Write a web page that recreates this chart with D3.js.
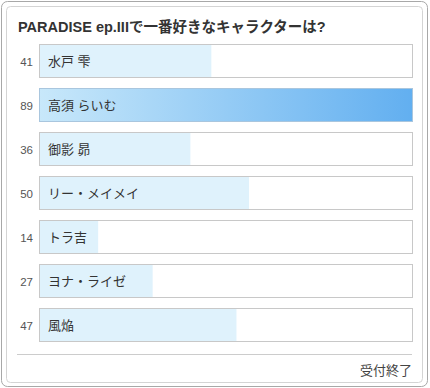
<!DOCTYPE html>
<html>
<head>
<meta charset="utf-8">
<script src="https://cdn.jsdelivr.net/npm/d3@7"></script>
<style>
  body { margin: 0; background: #fff; }
  svg { display: block; font-family: "Liberation Sans", Arial, "Noto Sans CJK JP", sans-serif; }
</style>
</head>
<body>
<div id="chart"></div>
<script>
var title = "PARADISE ep.IIIで一番好きなキャラクターは?";
var names = ["水戸 雫", "高須 らいむ", "御影 昴", "リー・メイメイ", "トラ吉", "ヨナ・ライゼ", "風焔"];
var votes = [41, 89, 36, 50, 14, 27, 47];
var footer = "受付終了";

var W = 430, H = 388;
var svg = d3.select("#chart").append("svg")
  .attr("width", W)
  .attr("height", H);

var defs = svg.append("defs");
var grad = defs.append("linearGradient").attr("id", "topgrad")
  .attr("x1", "0%").attr("x2", "100%").attr("y1", "0%").attr("y2", "0%");
grad.append("stop").attr("offset", "0%").attr("stop-color", "#c8e8fa");
grad.append("stop").attr("offset", "100%").attr("stop-color", "#62aff0");

// frames
svg.append("rect")
  .attr("x", 1.5).attr("y", 1.5).attr("width", 426).attr("height", 385)
  .attr("rx", 6).attr("fill", "#fff").attr("stroke", "#a8a8a8");
svg.append("rect")
  .attr("x", 6.5).attr("y", 6.5).attr("width", 416).attr("height", 376)
  .attr("rx", 4).attr("fill", "#fff").attr("stroke", "#d4d4d4");

svg.append("text")
  .attr("x", 18).attr("y", 32)
  .attr("font-size", 14.5)
  .attr("font-weight", "bold")
  .attr("fill", "#333")
  .text(title);

var x = d3.scaleLinear().domain([0, d3.max(votes)]).range([0, 373]);
var y = d3.scaleBand().domain(names).range([44, 341]).paddingInner(0.25).paddingOuter(0);

var left = 39;
var maxV = d3.max(votes);
var bh = y.bandwidth();

var rows = svg.selectAll("g.row")
  .data(names)
  .join("g")
  .attr("class", "row")
  .attr("transform", function (d) { return "translate(0," + y(d) + ")"; });

rows.append("rect")
  .attr("x", left + 0.5).attr("y", 0.5)
  .attr("width", x(maxV)).attr("height", bh)
  .attr("fill", "#fff");

rows.append("rect")
  .attr("x", left + 0.5).attr("y", 0.5)
  .attr("width", function (d, i) { return x(votes[i]); })
  .attr("height", bh)
  .attr("fill", function (d, i) { return votes[i] === maxV ? "url(#topgrad)" : "#dff2fc"; });

rows.append("rect")
  .attr("x", left + 0.5).attr("y", 0.5)
  .attr("width", x(maxV)).attr("height", bh)
  .attr("fill", "none")
  .attr("stroke", function (d, i) { return votes[i] === maxV ? "#a9c6de" : "#c8c8c8"; });

rows.append("text")
  .attr("x", 33).attr("y", bh / 2 + 5)
  .attr("text-anchor", "end")
  .attr("font-size", 11.5)
  .attr("fill", "#555")
  .text(function (d, i) { return votes[i]; });

rows.append("text")
  .attr("x", 48).attr("y", bh / 2 + 5)
  .attr("font-size", 13)
  .attr("fill", "#333")
  .text(function (d) { return d; });

svg.append("line")
  .attr("x1", 17).attr("x2", 412)
  .attr("y1", 354.5).attr("y2", 354.5)
  .attr("stroke", "#ccc");

svg.append("text")
  .attr("x", 412).attr("y", 375)
  .attr("text-anchor", "end")
  .attr("font-size", 13)
  .attr("fill", "#444")
  .text(footer);
</script>
</body>
</html>
